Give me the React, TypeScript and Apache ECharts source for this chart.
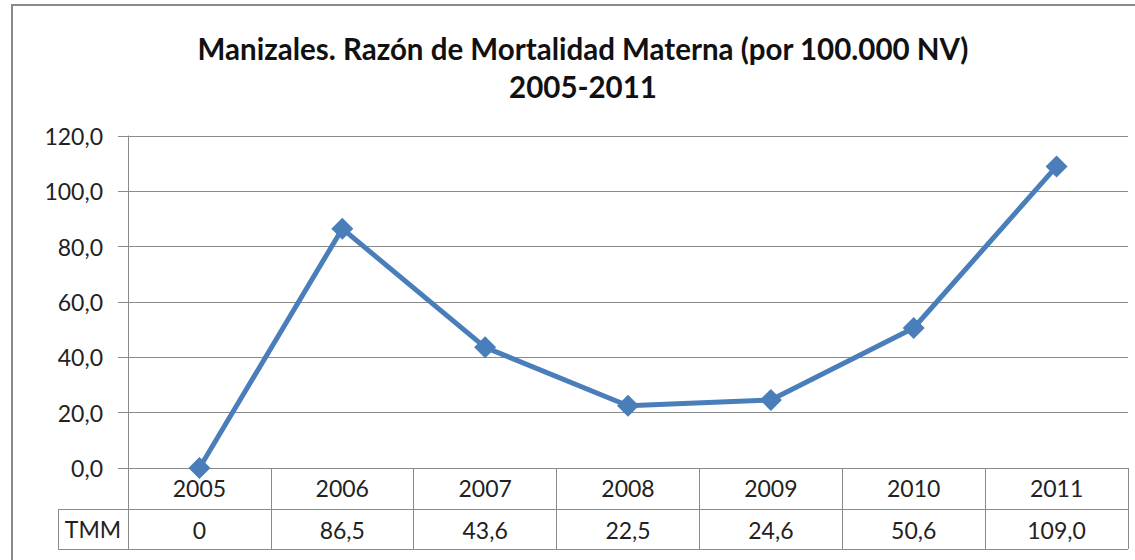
import React, { useEffect, useRef } from "react";
import * as echarts from "echarts";

const TITLE = "Manizales. Razón de Mortalidad Materna (por 100.000 NV)\n2005-2011";
const years = ["2005", "2006", "2007", "2008", "2009", "2010", "2011"];
const tmm = [0, 86.5, 43.6, 22.5, 24.6, 50.6, 109.0];
const tmmLabels = ["0", "86,5", "43,6", "22,5", "24,6", "50,6", "109,0"];
const rowName = "TMM";

const FONT = "Lato, 'Open Sans', sans-serif";
const GRAY = "#8a8a8a";
const LINE = "#4a7ebb";

export default function App() {
  const ref = useRef<HTMLDivElement>(null);
  useEffect(() => {
    document.body.style.margin = "0";
    const chart = echarts.init(ref.current!, null, { renderer: "svg" });
    const L = 128, R = 1128, AX = 468, ROW1 = 509, ROW2 = 549, TL = 58;
    chart.setOption({
      animation: false,
      backgroundColor: "#ffffff",
      title: {
        text: TITLE,
        left: 583,
        top: 29,
        padding: 0,
        textAlign: "center",
        textStyle: { fontFamily: FONT, fontWeight: "bold", fontSize: 29.5, lineHeight: 38, color: "#111" },
      },
      grid: { left: L, right: 1135 - R, top: 136, bottom: 560 - AX },
      xAxis: [
        {
          type: "category",
          data: years,
          boundaryGap: true,
          axisLine: { show: true, lineStyle: { color: GRAY, width: 1 } },
          axisTick: { show: true, interval: 0, length: ROW2 - AX, lineStyle: { color: GRAY, width: 1 } },
          axisLabel: { interval: 0, margin: 8, fontFamily: FONT, fontSize: 23, color: "#222" },
          splitLine: { show: false },
        },
        {
          type: "category",
          data: tmmLabels,
          position: "bottom",
          offset: ROW1 - AX,
          boundaryGap: true,
          axisLine: { show: false },
          axisTick: { show: false },
          axisLabel: { interval: 0, margin: 9, fontFamily: FONT, fontSize: 23, color: "#222" },
          splitLine: { show: false },
        },
      ],
      yAxis: {
        type: "value",
        min: 0,
        max: 120,
        interval: 20,
        axisLine: { show: true, lineStyle: { color: GRAY, width: 1 } },
        axisTick: { show: true, length: 10, lineStyle: { color: GRAY, width: 1 } },
        axisLabel: {
          margin: 25,
          fontFamily: FONT,
          fontSize: 23,
          color: "#222",
          formatter: (v: number) => v.toFixed(1).replace(".", ","),
        },
        splitLine: { show: true, lineStyle: { color: GRAY, width: 1 } },
      },
      series: [
        {
          type: "line",
          name: rowName,
          data: tmm,
          xAxisIndex: 0,
          symbol: "diamond",
          symbolSize: 22,
          lineStyle: { color: LINE, width: 5 },
          itemStyle: { color: LINE },
        },
      ],
      graphic: [
        {
          type: "rect",
          shape: { x: 12, y: 5, width: 1200, height: 700 },
          style: { fill: "none", stroke: GRAY, lineWidth: 2 },
          silent: true,
        },
        {
          type: "line",
          shape: { x1: TL, y1: ROW1 + 0.5, x2: R, y2: ROW1 + 0.5 },
          style: { stroke: GRAY, lineWidth: 1 },
        },
        {
          type: "line",
          shape: { x1: TL, y1: ROW2 + 0.5, x2: R, y2: ROW2 + 0.5 },
          style: { stroke: GRAY, lineWidth: 1 },
        },
        {
          type: "line",
          shape: { x1: TL + 0.5, y1: ROW1, x2: TL + 0.5, y2: ROW2 },
          style: { stroke: GRAY, lineWidth: 1 },
        },
        {
          type: "text",
          x: (TL + L) / 2,
          y: (ROW1 + ROW2) / 2,
          style: {
            text: rowName,
            fontFamily: FONT,
            fontSize: 23,
            fill: "#222",
            align: "center",
            verticalAlign: "middle",
          },
        },
      ],
    });
    return () => chart.dispose();
  }, []);
  return <div ref={ref} style={{ width: 1135, height: 560 }} />;
}
